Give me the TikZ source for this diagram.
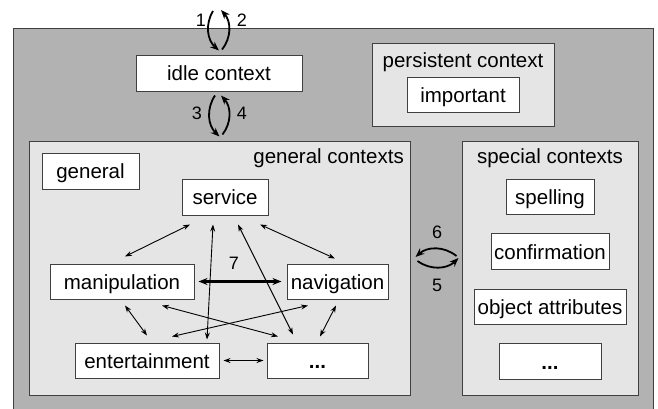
\documentclass[tikz,border=0pt]{standalone}
\usepackage{fontspec}
\setmainfont{Liberation Sans}
\usetikzlibrary{arrows.meta,positioning,calc}

\begin{document}
\begin{tikzpicture}
[x=1pt,y=-1pt,node distance=55pt,
ctxbox/.style={shape=rectangle,draw=black!75,fill=white,line width=1pt,inner sep=2pt,
  text height=15pt,text depth=0pt,font=\fontsize{20.5}{24}\selectfont},
group/.style={shape=rectangle,draw=black!75,fill=black!10,line width=1pt,inner sep=0pt},
title/.style={anchor=base,inner sep=0pt,font=\fontsize{20.5}{24}\selectfont},
num/.style={inner sep=0pt,font=\fontsize{18}{20}\selectfont},
link/.style={{Stealth[length=7pt,width=5pt]}-{Stealth[length=7pt,width=5pt]},line width=0.9pt},
thicklink/.style={{Stealth[length=9pt,width=7pt]}-{Stealth[length=9pt,width=7pt]},line width=2.4pt},
turn/.style={-{Stealth[length=9pt,width=7pt]},line width=1.8pt,bend right=40}]
\useasboundingbox (0,0) rectangle (658,408);
%%
\draw[draw=black!75,fill=black!30,line width=1pt] (13,28) rectangle (653,410);
\node (idle) [ctxbox,minimum width=166pt,minimum height=36pt] at (219,73) {idle context};
%%
\node (persist) [group,minimum width=182pt,minimum height=83pt] at (463,84.5) {};
\node [title] at (463,67) {persistent context};
\node (important) [ctxbox,minimum width=112pt,minimum height=35pt] at (463,94.5) {important};
%%
\node (gen) [group,minimum width=381pt,minimum height=254pt] at (219.5,268) {};
\node [title,anchor=base east] at (404,163) {general contexts};
\node (general) [ctxbox,minimum width=97pt,minimum height=36pt] at (90.5,171) {general};
\node (service) [ctxbox,minimum width=86pt,minimum height=36pt] at (225,197) {service};
\node (manipulation) [ctxbox,minimum width=144pt,minimum height=35pt] at (122,281.5) {manipulation};
\node (navigation) [ctxbox,minimum width=101pt,minimum height=35pt] at (337.5,281.5) {navigation};
\node (entertainment) [ctxbox,minimum width=144pt,minimum height=35pt] at (147,360.5) {entertainment};
\node (gdots) [ctxbox,minimum width=101pt,minimum height=35pt] at (317.5,360.5) {\textbf{...}};
%%
\node (spec) [group,minimum width=176pt,minimum height=254pt] at (550,268) {};
\node [title] at (550,163) {special contexts};
\node (spelling) [ctxbox,minimum width=88pt,minimum height=35pt] at (550,196.5) {spelling};
\node (confirmation) [ctxbox,minimum width=118pt,minimum height=36pt,below of=spelling] {confirmation};
\node (attributes) [ctxbox,minimum width=152pt,minimum height=35pt,below of=confirmation] {object attributes};
\node (sdots) [ctxbox,minimum width=102pt,minimum height=36pt,below of=attributes] {\textbf{...}};
%%
\coordinate (in1) at (213,11);
\coordinate (out2) at (221,10);
\draw[turn] (in1) to ([yshift=4pt]idle.north);
\draw[turn] ([xshift=3pt,yshift=5pt]idle.north) to (out2);
\draw[turn] ([xshift=-4pt,yshift=-4pt]idle.south) to ([yshift=4pt]gen.north);
\draw[turn] ([xshift=3pt,yshift=6pt]gen.north) to ([xshift=2pt,yshift=-4pt]idle.south);
\draw[turn] ([xshift=-5pt,yshift=12pt]spec.west) to ([xshift=5pt,yshift=11pt]gen.east);
\draw[turn] ([xshift=7pt,yshift=7pt]gen.east) to ([xshift=-3pt,yshift=10pt]spec.west);
\node (n1) [num] at (201,20) {1};
\node (n2) [num] at (242,20) {2};
\node (n3) [num] at (197,113.5) {3};
\node (n4) [num] at (242,113.5) {4};
\node (n6) [num] at (437,232) {6};
\node (n5) [num] at (437,285.5) {5};
\node (n7) [num] at (234,263) {7};
%%
\draw[link] ([xshift=-35pt,yshift=-9pt]service.south) -- ([xshift=3pt,yshift=7pt]manipulation.north);
\draw[link] ([xshift=-12pt,yshift=-9pt]service.south) -- ([xshift=60pt,yshift=3pt]entertainment.north);
\draw[link] ([xshift=13pt,yshift=-9pt]service.south) -- ([xshift=-24.5pt,yshift=8pt]gdots.north);
\draw[link] ([xshift=35pt,yshift=-9pt]service.south) -- ([xshift=-2.5pt,yshift=5pt]navigation.north);
\draw[thicklink] ([xshift=4pt]manipulation.east) -- ([xshift=-5pt]navigation.west);
\draw[link] ([xshift=3pt,yshift=-6pt]manipulation.south) -- ([yshift=7pt]entertainment.north);
\draw[link] ([xshift=40pt,yshift=-6pt]manipulation.south) -- ([xshift=-39.5pt,yshift=6pt]gdots.north);
\draw[link] ([xshift=-29.5pt,yshift=-6pt]navigation.south) -- ([xshift=25pt,yshift=6pt]entertainment.north);
\draw[link] ([xshift=-1.5pt,yshift=-6pt]navigation.south) -- ([xshift=2.5pt,yshift=6pt]gdots.north);
\draw[link] ([xshift=4pt]entertainment.east) -- ([xshift=-3pt]gdots.west);
\end{tikzpicture}
\end{document}
